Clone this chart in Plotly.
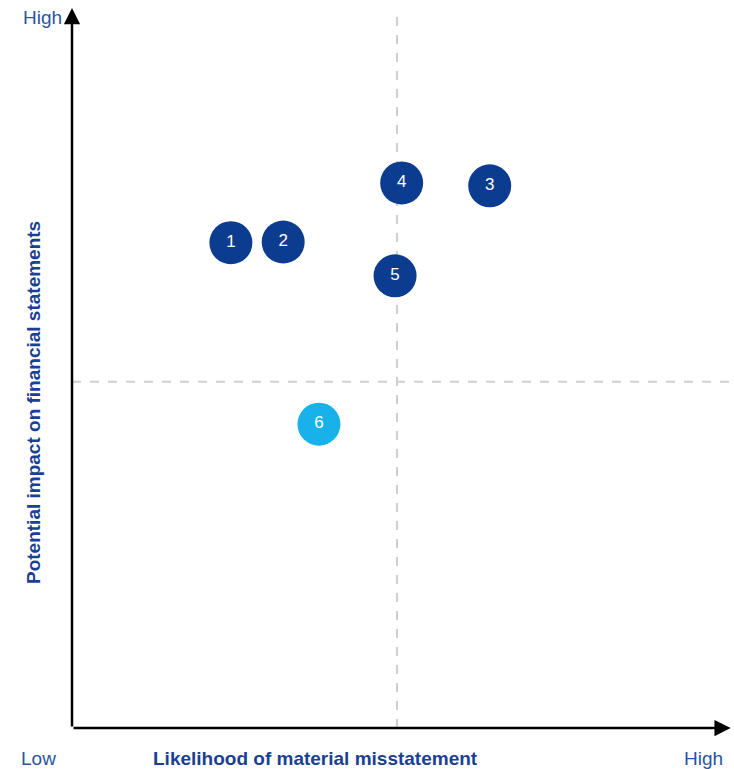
import plotly.graph_objects as go

labels = ["1", "2", "3", "4", "5", "6"]
likelihood = [2.40, 3.19, 6.31, 4.98, 4.88, 3.73]
impact = [6.74, 6.75, 7.53, 7.57, 6.28, 4.22]
colors = ["#0b3c8f", "#0b3c8f", "#0b3c8f", "#0b3c8f", "#0b3c8f", "#18b1ea"]
mid_x = 4.91
mid_y = 4.81

L, R, T, B, W, H = 72, 0, 8, 41, 734, 769
PW, PH = W - L - R, H - T - B


def px(xp):
    return (xp - L) / PW


def py(yp):
    return (H - B - yp) / PH


fig = go.Figure()
fig.add_trace(go.Scatter(
    x=likelihood, y=impact, mode="markers+text", text=labels,
    textposition="middle center",
    textfont=dict(color="white", size=17, family="Liberation Sans, Arial"),
    marker=dict(size=43, color=colors, line=dict(width=0)),
    hoverinfo="skip", showlegend=False, cliponaxis=False,
))

# quadrant dashed lines
fig.add_shape(type="line", xref="x", yref="y", x0=mid_x, x1=mid_x, y0=0, y1=9.97,
              line=dict(color="#cfcfcf", width=2, dash="dash"), layer="below")
fig.add_shape(type="line", xref="x", yref="y", x0=0, x1=10.1, y0=mid_y, y1=mid_y,
              line=dict(color="#cfcfcf", width=2, dash="dash"), layer="below")

# axes with arrows
for (x, y) in [(0, 10), (9.95, 0)]:
    fig.add_annotation(x=x, y=y, ax=0, ay=0, xref="x", yref="y", axref="x", ayref="y",
                       showarrow=True, arrowhead=2, arrowsize=1.3, arrowwidth=2.5,
                       arrowcolor="black", text="")

font_lbl = dict(family="Liberation Sans, Arial", size=19, color="#2b55a0")
for (xp, yp, t) in [(42, 18, "High"), (38, 758, "Low"), (703, 758, "High")]:
    fig.add_annotation(x=px(xp), y=py(yp), xref="paper", yref="paper", text=t,
                       showarrow=False, font=font_lbl, xanchor="center", yanchor="middle")
fig.add_annotation(x=px(315), y=py(758), xref="paper", yref="paper",
                   text="<b>Likelihood of material misstatement</b>", showarrow=False,
                   font=dict(family="Liberation Sans, Arial", size=19, color="#1b3f93"),
                   xanchor="center", yanchor="middle")
fig.add_annotation(x=px(33), y=py(403), xref="paper", yref="paper",
                   text="<b>Potential impact on financial statements</b>", showarrow=False,
                   textangle=-90,
                   font=dict(family="Liberation Sans, Arial", size=19, color="#1b3f93"),
                   xanchor="center", yanchor="middle")

fig.update_layout(
    width=W, height=H,
    margin=dict(l=L, r=R, t=T, b=B),
    plot_bgcolor="white", paper_bgcolor="white",
    xaxis=dict(range=[0, 10], visible=False, fixedrange=True),
    yaxis=dict(range=[0, 10], visible=False, fixedrange=True),
)
fig.write_html("out.html")
